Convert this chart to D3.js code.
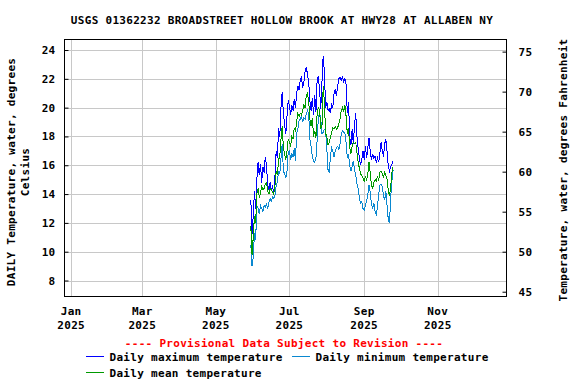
<!DOCTYPE html>
<html>
<head>
<meta charset="utf-8">
<script src="https://cdn.jsdelivr.net/npm/d3@7"></script>
<style>
body { margin: 0; background: #fff; }
text { font-family: "DejaVu Sans Mono", monospace; font-weight: bold; font-size: 11px; letter-spacing: 0.3px; }
</style>
</head>
<body>
<script>
var width = 576, height = 384;

// daily series, first value is 2025-05-30
var startDate = new Date(2025, 4, 30);
var maxTemp = [13.6, 11.2, 12.5, 14.2, 13.0, 15.0, 16.2, 15.3, 16.1, 14.8,
  15.9, 15.5, 16.6, 16.0, 14.6, 14.3, 14.8, 14.2, 14.6, 14.0,
  15.2, 17.0, 16.5, 18.6, 18.0, 20.0, 21.1, 19.6, 18.8, 18.2,
  19.4, 20.5, 20.1, 19.5, 20.2, 19.8, 20.6, 20.0, 21.0, 21.5,
  21.2, 21.9, 22.1, 21.4, 21.8, 22.5, 22.8, 22.3, 21.8, 20.4,
  19.8, 20.7, 19.5, 20.9, 19.7, 22.0, 22.2, 21.2, 19.9, 21.8,
  23.6, 22.5, 20.0, 20.4, 19.8, 19.9, 19.6, 20.3, 20.0, 21.0,
  21.3, 20.8, 21.5, 22.0, 22.1, 21.9, 22.1, 21.8, 22.0, 21.6,
  19.6, 20.4, 18.0, 17.4, 18.5, 17.5, 18.8, 19.6, 18.0, 17.2,
  16.5, 16.0, 16.4, 17.0, 16.4, 17.3, 16.5, 17.2, 17.9, 17.0,
  16.4, 16.8, 16.5, 16.6, 16.2, 16.5, 16.2, 16.8, 17.6, 17.0,
  16.6, 17.5, 17.8, 16.9, 15.9, 15.6, 15.9, 16.1, 16.3];
var minTemp = [10.5, 9.0, 9.6, 11.3, 10.8, 13.2, 13.0, 12.6, 13.2, 13.0,
  12.8, 13.2, 13.1, 13.3, 13.0, 13.4, 13.7, 13.5, 13.8, 13.7,
  13.9, 14.6, 14.8, 15.6, 15.4, 16.5, 17.5, 15.6, 15.4, 15.1,
  15.6, 16.9, 17.0, 16.4, 16.8, 16.6, 17.2, 16.3, 18.2, 18.5,
  19.1, 19.2, 19.4, 19.0, 19.3, 19.2, 19.6, 19.8, 19.5, 17.8,
  17.3, 16.6, 16.3, 16.2, 16.5, 17.8, 19.3, 19.7, 19.2, 18.2,
  18.3, 18.5, 18.4, 17.2, 15.7, 15.5, 16.6, 17.2, 17.0, 16.6,
  17.0, 17.2, 17.3, 17.1, 17.5, 18.2, 18.4, 18.3, 18.2, 17.6,
  16.5, 16.8, 16.0, 15.6, 15.9, 16.3, 15.7, 15.3, 14.7, 14.4,
  13.7, 13.4, 13.5, 13.0, 12.9, 13.2, 13.5, 14.0, 14.6, 14.1,
  13.3, 13.0, 13.4, 12.8, 12.6, 13.1, 14.0, 14.6, 14.7, 14.5,
  13.9, 13.6, 14.2, 13.2, 12.2, 12.0, 13.8, 14.9, 15.7];
var meanTemp = [11.8, 9.8, 11.0, 12.5, 12.0, 14.0, 14.4, 13.8, 14.0, 14.6,
  14.3, 14.4, 14.7, 14.8, 14.2, 14.0, 14.4, 14.3, 14.1, 14.0,
  14.6, 15.6, 15.3, 16.4, 16.6, 17.8, 18.7, 17.2, 16.8, 16.4,
  17.0, 17.8, 17.6, 17.3, 18.0, 17.8, 18.6, 18.4, 19.0, 19.6,
  19.4, 19.6, 19.5, 19.8, 20.2, 20.0, 20.9, 21.0, 20.4, 19.2,
  18.7, 19.3, 18.0, 18.4, 17.9, 19.6, 20.0, 19.8, 18.6, 18.7,
  21.5, 20.4, 18.2, 18.0, 17.4, 17.6, 17.9, 18.3, 18.6, 18.5,
  18.7, 18.5, 18.6, 18.9, 19.2, 19.8, 20.0, 19.7, 20.2, 19.4,
  18.2, 18.6, 17.2, 16.8, 17.3, 17.6, 17.5, 17.6, 16.9, 16.2,
  15.8, 15.4, 15.3, 15.1, 14.9, 15.2, 15.0, 15.4, 16.2, 15.5,
  14.6, 14.4, 14.8, 15.0, 14.9, 15.2, 15.0, 15.5, 15.6, 15.4,
  15.2, 15.5, 15.3, 15.0, 14.2, 13.9, 14.5, 15.5, 15.9];

var celsiusTicks = [8, 10, 12, 14, 16, 18, 20, 22, 24];
var fahrenheitTicks = [45, 50, 55, 60, 65, 70, 75];
var monthTicks = [new Date(2025,0,1), new Date(2025,2,1), new Date(2025,4,1),
  new Date(2025,6,1), new Date(2025,8,1), new Date(2025,10,1)];

var series = [
  {name: "Daily maximum temperature", values: maxTemp, color: "#0000ff"},
  {name: "Daily minimum temperature", values: minTemp, color: "#0a88d0"},
  {name: "Daily mean temperature", values: meanTemp, color: "#009a00"}
];

var plotLeft = 64.5, plotRight = 506.5, plotTop = 39.5, plotBottom = 296.5;

var x = d3.scaleTime()
  .domain([new Date(2024,11,26,12), new Date(2025,11,28)])
  .range([plotLeft, plotRight]);
var y = d3.scaleLinear().domain([6.89, 24.73]).range([plotBottom, plotTop]);
var yF = d3.scaleLinear().domain([6.89*9/5+32, 24.73*9/5+32]).range([plotBottom, plotTop]);

var svg = d3.select("body").append("svg")
  .attr("width", width)
  .attr("height", height);

// grid
svg.append("g").selectAll("line")
  .data(celsiusTicks).enter().append("line")
  .attr("x1", plotLeft).attr("x2", plotRight)
  .attr("y1", function(d){ return Math.round(y(d)) + 0.5; })
  .attr("y2", function(d){ return Math.round(y(d)) + 0.5; })
  .attr("stroke", "#c8c8c8");
svg.append("g").selectAll("line")
  .data(monthTicks).enter().append("line")
  .attr("x1", function(d){ return Math.round(x(d)) + 0.5; })
  .attr("x2", function(d){ return Math.round(x(d)) + 0.5; })
  .attr("y1", plotTop).attr("y2", plotBottom)
  .attr("stroke", "#c8c8c8");

// data lines
var line = d3.line()
  .x(function(d, i){ return x(d3.timeDay.offset(startDate, i)); })
  .y(function(d){ return y(d); });

svg.append("g").selectAll("path")
  .data(series).enter().append("path")
  .attr("d", function(s){ return line(s.values); })
  .attr("fill", "none")
  .attr("stroke", function(s){ return s.color; })
  .attr("stroke-width", 1)
  .attr("shape-rendering", "crispEdges");

// frame
svg.append("rect")
  .attr("x", plotLeft).attr("y", plotTop)
  .attr("width", plotRight - plotLeft).attr("height", plotBottom - plotTop)
  .attr("fill", "none").attr("stroke", "#000");

// axes
var yAxis = d3.axisLeft(y).tickValues(celsiusTicks).tickSizeInner(-4).tickSizeOuter(0).tickPadding(9);
svg.append("g").attr("transform", "translate(" + plotLeft + ",0)").call(yAxis);
var yAxisR = d3.axisRight(yF).tickValues(fahrenheitTicks).tickSizeInner(-4).tickSizeOuter(0).tickPadding(12);
svg.append("g").attr("transform", "translate(" + plotRight + ",0)").call(yAxisR);
svg.selectAll(".domain").remove();
svg.selectAll(".tick line").attr("stroke", "#000");
svg.selectAll(".tick text").attr("fill", "#000").attr("font-size", null)
  .attr("font-family", null);

// bottom labels
var xl = svg.append("g").selectAll("text")
  .data(monthTicks).enter().append("text")
  .attr("x", function(d){ return x(d); })
  .attr("y", 315)
  .attr("text-anchor", "middle");
xl.append("tspan").attr("x", function(d){ return x(d); }).text(d3.timeFormat("%b"));
xl.append("tspan").attr("x", function(d){ return x(d); }).attr("dy", 13.5).text(d3.timeFormat("%Y"));

// title and axis titles
svg.append("text").attr("x", 282).attr("y", 24).attr("text-anchor", "middle")
  .text("USGS 01362232 BROADSTREET HOLLOW BROOK AT HWY28 AT ALLABEN NY");
svg.append("text").attr("transform", "translate(15,172) rotate(-90)").attr("text-anchor", "middle")
  .text("DAILY Temperature, water, degrees");
svg.append("text").attr("transform", "translate(29,172) rotate(-90)").attr("text-anchor", "middle")
  .text("Celsius");
svg.append("text").attr("transform", "translate(567,170) rotate(-90)").attr("text-anchor", "middle")
  .text("Temperature, water, degrees Fahrenheit");

svg.append("text").attr("x", 284).attr("y", 347).attr("text-anchor", "middle")
  .attr("fill", "#ff0000")
  .text("---- Provisional Data Subject to Revision ----");

// legend
var legendPos = [[86, 357], [292, 357], [86, 373]];
var lg = svg.append("g").selectAll("g")
  .data(series).enter().append("g")
  .attr("transform", function(d, i){ return "translate(" + legendPos[i][0] + "," + legendPos[i][1] + ")"; });
lg.append("line").attr("x1", 0).attr("x2", 18).attr("y1", -0.5).attr("y2", -0.5)
  .attr("stroke", function(d){ return d.color; });
lg.append("text").attr("x", 23.5).attr("y", 4).text(function(d){ return d.name; });
</script>
</body>
</html>
